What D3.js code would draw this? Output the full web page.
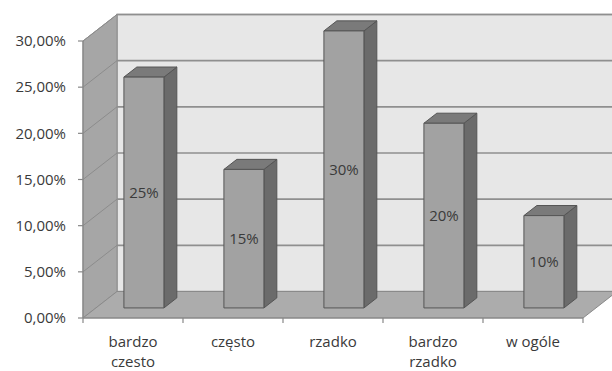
<!DOCTYPE html>
<html><head><meta charset="utf-8">
<script src="https://cdn.jsdelivr.net/npm/d3@7/dist/d3.min.js"></script>
<style>body{margin:0;background:#fff}svg{display:block}text{font-family:"Open Sans",sans-serif;fill:#3a3a3a}</style>
</head><body><svg id="c" width="612" height="371"></svg>
<script>
const categories = [["bardzo","czesto"],["często"],["rzadko"],["bardzo","rzadko"],["w ogóle"]];
const values = [25, 15, 30, 20, 10];
const barLabels = ["25%","15%","30%","20%","10%"];
const yTicks = [0, 5, 10, 15, 20, 25, 30];

const svg = d3.select("#c");
const keys = categories.map(c => c.join(" "));
const x = d3.scaleBand().domain(keys).range([83, 583]).paddingInner(0).paddingOuter(0);
const y = d3.scaleLinear().domain([0, 30]).range([318, 41]);
const DX = 34, DY = -26.5;           // full depth offset
const fD = 0.38, bD = 0.76;          // bar depth fractions
const fmt = d3.formatLocale({decimal: ",", thousands: " ", grouping: [3], currency: ["", ""]}).format(".2%");

const x0 = x.range()[0], x1 = x.range()[1];
const yb = v => y(v) + DY;
const pts = a => a.map(p => p.join(",")).join(" ");

// back wall
svg.append("polygon").attr("points", pts([[x0+DX, yb(30)], [x1+DX, yb(30)], [x1+DX, yb(0)], [x0+DX, yb(0)]]))
  .attr("fill", "#e7e7e7").attr("stroke", "#9a9a9a").attr("stroke-width", 1.5);
// left wall
svg.append("polygon").attr("points", pts([[x0, y(30)], [x0+DX, yb(30)], [x0+DX, yb(0)], [x0, y(0)]]))
  .attr("fill", "#a6a6a6").attr("stroke", "#8e8e8e").attr("stroke-width", 1);
// floor
svg.append("polygon").attr("points", pts([[x0, y(0)], [x0+DX, yb(0)], [x1+DX, yb(0)], [x1, y(0)]]))
  .attr("fill", "#acacac").attr("stroke", "#8a8a8a").attr("stroke-width", 1);

// gridlines
yTicks.filter(t => t > 0).forEach(t => {
  svg.append("line").attr("x1", x0+DX).attr("x2", x1+DX).attr("y1", yb(t)).attr("y2", yb(t))
    .attr("stroke", "#8f8f8f").attr("stroke-width", 1.6);
  svg.append("line").attr("x1", x0).attr("x2", x0+DX).attr("y1", y(t)).attr("y2", yb(t))
    .attr("stroke", "#8c8c8c").attr("stroke-width", 1);
});

// bars
const bw = x.bandwidth();
values.forEach((v, i) => {
  const L = x(keys[i]) + bw*0.28, R = L + bw*0.40;
  const fdx = DX*fD, fdy = DY*fD, bdx = DX*bD, bdy = DY*bD;
  const top = y(v), bot = y(0);
  const g = svg.append("g").attr("stroke", "#555").attr("stroke-width", 1).attr("stroke-linejoin", "round");
  g.append("polygon").attr("points", pts([[R+fdx, top+fdy], [R+bdx, top+bdy], [R+bdx, bot+bdy], [R+fdx, bot+fdy]])).attr("fill", "#6b6b6b");
  g.append("polygon").attr("points", pts([[L+fdx, top+fdy], [L+bdx, top+bdy], [R+bdx, top+bdy], [R+fdx, top+fdy]])).attr("fill", "#7a7a7a");
  g.append("rect").attr("x", L+fdx).attr("y", top+fdy).attr("width", R-L).attr("height", bot-top).attr("fill", "#a2a2a2");
  svg.append("text").attr("x", (L+R)/2+fdx).attr("y", (top+bot)/2+fdy).attr("dy", "0.35em")
    .attr("text-anchor", "middle").attr("font-size", 15).text(barLabels[i]);
});

// y axis
svg.append("line").attr("x1", x0).attr("x2", x0).attr("y1", y(30)).attr("y2", y(0)).attr("stroke", "#888").attr("stroke-width", 1.2);
yTicks.forEach(t => {
  svg.append("line").attr("x1", x0-5).attr("x2", x0).attr("y1", y(t)).attr("y2", y(t)).attr("stroke", "#888").attr("stroke-width", 1.2);
  svg.append("text").attr("x", 66).attr("y", y(t)).attr("dy", "0.35em").attr("text-anchor", "end")
    .attr("font-size", 15).text(fmt(t/100));
});
// x axis
svg.append("line").attr("x1", x0).attr("x2", x1).attr("y1", y(0)).attr("y2", y(0)).attr("stroke", "#888").attr("stroke-width", 1.2);
keys.concat(["_end"]).forEach((k, i) => {
  const xx = i < keys.length ? x(k) : x1;
  svg.append("line").attr("x1", xx).attr("x2", xx).attr("y1", y(0)).attr("y2", y(0)+5).attr("stroke", "#888").attr("stroke-width", 1.2);
});
categories.forEach((c, i) => {
  const t = svg.append("text").attr("text-anchor", "middle").attr("font-size", 15);
  c.forEach((line, j) => {
    t.append("tspan").attr("x", x(keys[i]) + bw/2).attr("y", 342 + j*20).attr("dy", "0.35em").text(line);
  });
});
</script></body></html>
